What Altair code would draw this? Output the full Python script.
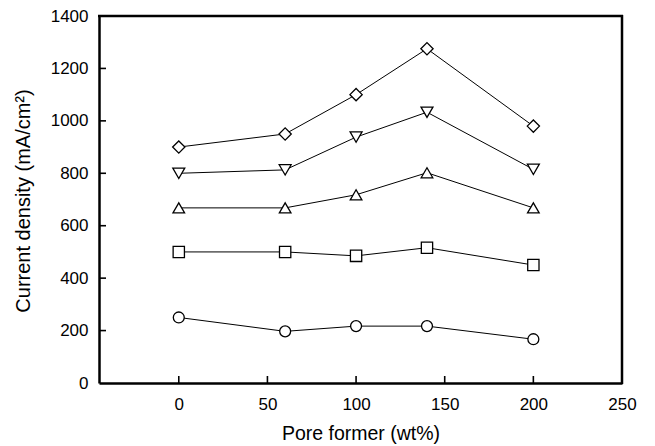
import altair as alt
import pandas as pd

pore_former = [0, 60, 100, 140, 200]
series_names = ["diamond", "triangle-down", "triangle-up", "square", "circle"]
diamond_vals = [900, 950, 1100, 1275, 980]
tri_down_vals = [800, 813, 938, 1033, 815]
tri_up_vals = [668, 668, 718, 802, 668]
square_vals = [500, 500, 485, 516, 450]
circle_vals = [250, 197, 217, 217, 167]

x_ticks = [0, 50, 100, 150, 200, 250]
y_ticks = [0, 200, 400, 600, 800, 1000, 1200, 1400]

all_vals = [diamond_vals, tri_down_vals, tri_up_vals, square_vals, circle_vals]
rows = []
for name, vals in zip(series_names, all_vals):
    for x, v in zip(pore_former, vals):
        rows.append({"series": name, "x": x, "y": v})
df = pd.DataFrame(rows)

FONT = "Liberation Sans"
INK = "#000000"
W, H = 523, 367

xscale = alt.Scale(domain=[-45, 250], nice=False, zero=False)
yscale = alt.Scale(domain=[0, 1400], nice=False)

xaxis = alt.Axis(values=x_ticks, title="Pore former (wt%)", ticks=False, tickSize=0, format="d",
                 domain=True, domainColor=INK, domainWidth=2.5, grid=False, labelPadding=13, labelFlush=False,
                 labelFontSize=17, labelFont=FONT, labelColor=INK,
                 titleFontSize=19.5, titleFont=FONT, titleFontWeight="normal", titleColor=INK,
                 titleX=W / 2, titleY=41, titleBaseline="top", titleAlign="center")
yaxis = alt.Axis(values=y_ticks, title="Current density (mA/cm²)", ticks=False, tickSize=0, format="d",
                 domain=True, domainColor=INK, domainWidth=2.5, grid=False, labelPadding=11, labelFlush=False,
                 labelFontSize=17, labelFont=FONT, labelColor=INK,
                 titleFontSize=20, titleFont=FONT, titleFontWeight="normal", titleColor=INK,
                 titleAngle=270, titleX=-76, titleY=H / 2 + 1, titleBaseline="middle", titleAlign="center")

base = alt.Chart(df)

lines = base.mark_line(color=INK, strokeWidth=1).encode(
    x=alt.X("x:Q", scale=xscale, axis=xaxis),
    y=alt.Y("y:Q", scale=yscale, axis=yaxis),
    detail="series:N",
)

points = base.mark_point(filled=True, fill="white", stroke=INK, strokeWidth=1.3, opacity=1).encode(
    x=alt.X("x:Q", scale=xscale),
    y=alt.Y("y:Q", scale=yscale),
    shape=alt.Shape("series:N", scale=alt.Scale(domain=series_names, range=series_names), legend=None),
    size=alt.Size("series:N", scale=alt.Scale(domain=series_names, range=[150, 120, 120, 90, 80]), legend=None),
)

xt = alt.Chart(pd.DataFrame({"v": x_ticks[:-1]})).mark_rule(color=INK, strokeWidth=1.6).encode(
    x=alt.X("v:Q", scale=xscale), y=alt.value(H), y2=alt.value(H - 7)
)
yt = alt.Chart(pd.DataFrame({"v": y_ticks[1:-1]})).mark_rule(color=INK, strokeWidth=1.6).encode(
    y=alt.Y("v:Q", scale=yscale), x=alt.value(0), x2=alt.value(7)
)

one = pd.DataFrame({"k": [0]})
frame_right = alt.Chart(one).mark_rule(color=INK, strokeWidth=2.5).encode(
    x=alt.value(W), y=alt.value(-1), y2=alt.value(H + 1))
frame_top = alt.Chart(one).mark_rule(color=INK, strokeWidth=2.5).encode(
    y=alt.value(0), x=alt.value(-1), x2=alt.value(W + 1))

chart = alt.layer(lines, points, xt, yt, frame_right, frame_top).properties(
    width=W, height=H,
    background="white",
    autosize=alt.AutoSizeParams(type="none"),
    padding={"left": 99, "top": 16, "right": 33, "bottom": 63},
).configure_view(strokeWidth=0)

chart.save("out.html", embed_options={"renderer": "svg", "actions": False})
